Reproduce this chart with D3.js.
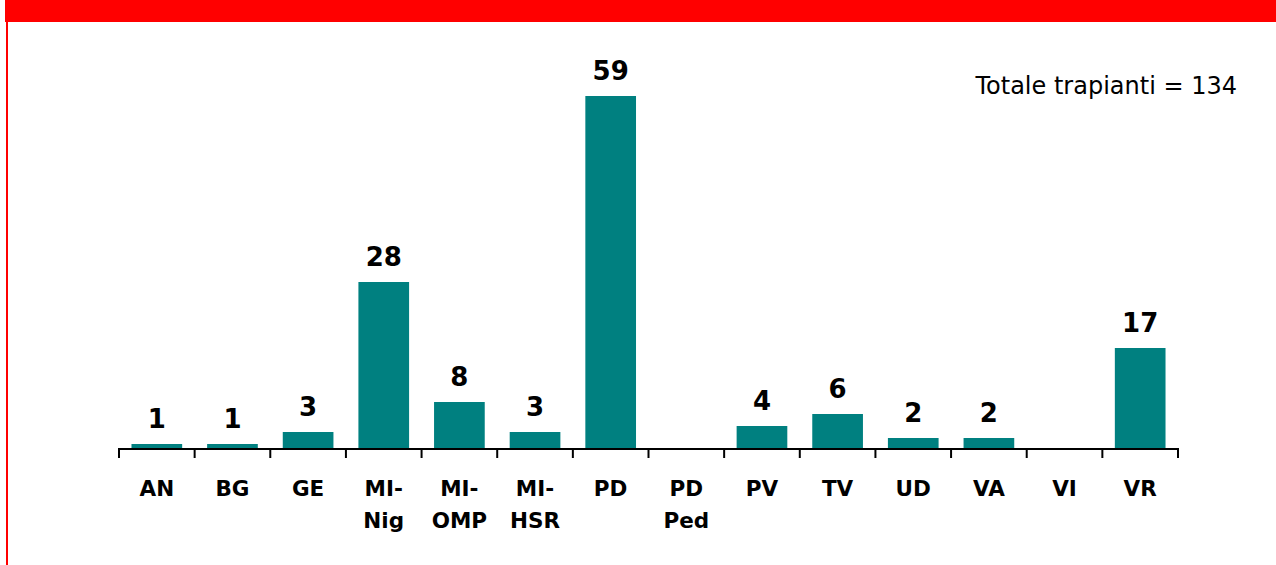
<!DOCTYPE html>
<html>
<head>
<meta charset="utf-8">
<script src="https://cdn.jsdelivr.net/npm/d3@7"></script>
<style>
  html, body { margin: 0; padding: 0; background: #fff; }
  svg { display: block; }
</style>
</head>
<body>
<svg id="chart" width="1276" height="565"></svg>
<script>
const categories = ["AN", "BG", "GE", "MI-Nig", "MI-OMP", "MI-HSR", "PD", "PD Ped", "PV", "TV", "UD", "VA", "VI", "VR"];
const categoryLines = [["AN"], ["BG"], ["GE"], ["MI-", "Nig"], ["MI-", "OMP"], ["MI-", "HSR"], ["PD"], ["PD", "Ped"], ["PV"], ["TV"], ["UD"], ["VA"], ["VI"], ["VR"]];
const values = [1, 1, 3, 28, 8, 3, 59, 0, 4, 6, 2, 2, 0, 17];
const totalLabel = "Totale trapianti = 134";

const svg = d3.select("#chart");
const W = 1276, H = 565;

// banner and frame
svg.append("rect").attr("x", 5).attr("y", 0).attr("width", W - 5).attr("height", 22).attr("fill", "#ff0000");
svg.append("rect").attr("x", 6).attr("y", 22).attr("width", 2).attr("height", H - 22).attr("fill", "#ff0000");

const x = d3.scaleBand().domain(categories).range([119, 1178]).paddingInner(0.33).paddingOuter(0.165);
const y = d3.scaleLinear().domain([0, 60]).range([450, 90]);

const font = "'DejaVu Sans', Verdana, sans-serif";

// bars
svg.append("g").selectAll("rect").data(categories).join("rect")
  .attr("x", d => x(d))
  .attr("y", (d, i) => y(values[i]))
  .attr("width", x.bandwidth())
  .attr("height", (d, i) => y(0) - y(values[i]))
  .attr("fill", "#008080");

// value labels
svg.append("g").selectAll("text").data(categories.filter((d, i) => values[i] > 0)).join("text")
  .attr("x", d => x(d) + x.bandwidth() / 2)
  .attr("y", d => y(values[categories.indexOf(d)]) - 16)
  .attr("text-anchor", "middle")
  .attr("font-family", font)
  .attr("font-weight", "bold")
  .attr("font-size", 26)
  .attr("fill", "#000")
  .text(d => values[categories.indexOf(d)]);

// axis
const tickX = d3.range(categories.length + 1).map(i => 119 + i * (1178 - 119) / categories.length);
const axisG = svg.append("g");
axisG.append("line").attr("x1", 118).attr("x2", 1179).attr("y1", 449).attr("y2", 449)
  .attr("stroke", "#000").attr("stroke-width", 2);
axisG.selectAll("line.tick").data(tickX).join("line").attr("class", "tick")
  .attr("x1", d => d).attr("x2", d => d).attr("y1", 449).attr("y2", 458)
  .attr("stroke", "#000").attr("stroke-width", 2);

// category labels
const catG = svg.append("g");
categories.forEach((c, i) => {
  const t = catG.append("text")
    .attr("x", x(c) + x.bandwidth() / 2)
    .attr("y", 496)
    .attr("text-anchor", "middle")
    .attr("font-family", font)
    .attr("font-weight", "bold")
    .attr("font-size", 21.5)
    .attr("fill", "#000");
  categoryLines[i].forEach((ln, j) => {
    t.append("tspan").attr("x", x(c) + x.bandwidth() / 2).attr("dy", j === 0 ? 0 : 32).text(ln);
  });
});

// total label
svg.append("text")
  .attr("x", 1237).attr("y", 94)
  .attr("text-anchor", "end")
  .attr("font-family", font)
  .attr("font-size", 24)
  .attr("fill", "#000")
  .text(totalLabel);
</script>
</body>
</html>
